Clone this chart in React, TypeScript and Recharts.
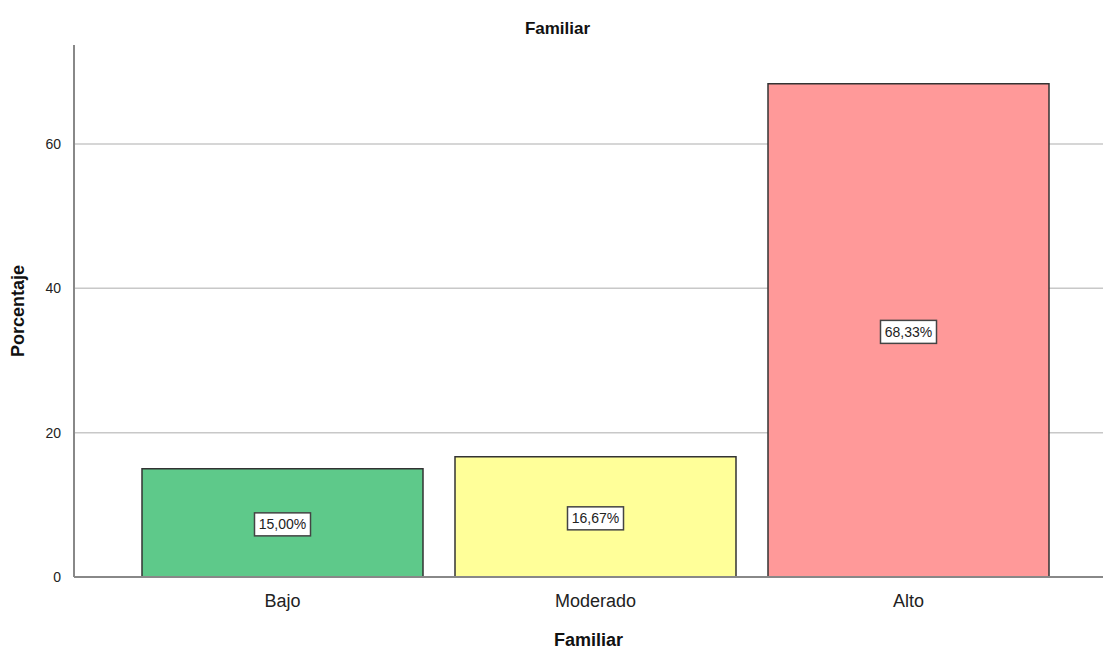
import React from 'react';
import { BarChart, Bar, XAxis, YAxis, CartesianGrid, Cell, LabelList } from 'recharts';

const categories = ['Bajo', 'Moderado', 'Alto'];
const percentages = [15.0, 16.67, 68.33];
const barColors = ['#5ec98a', '#ffff99', '#ff9999'];
const yTicks = [0, 20, 40, 60];

const data = categories.map((name, i) => ({ name, value: percentages[i] }));

const FONT = '"Liberation Sans", Arial, sans-serif';

const BoxLabel = (props: any) => {
  const { x, y, width, height, value } = props;
  const cx = x + width / 2;
  const cy = y + height / 2 + 1.5;
  const text = `${value.toFixed(2).replace('.', ',')}%`;
  const w = 56;
  const h = 23;
  return (
    <g>
      <rect x={cx - w / 2} y={cy - h / 2} width={w} height={h} fill="#ffffff" stroke="#444444" strokeWidth={1.5} />
      <text x={cx} y={cy} dy={5} textAnchor="middle" fontSize={14} fontFamily={FONT} fill="#222">
        {text}
      </text>
    </g>
  );
};

export default function App() {
  return (
    <div style={{ position: 'absolute', left: 0, top: 0, width: 1103, height: 650, background: '#fff', fontFamily: FONT }}>
      <div style={{ position: 'absolute', top: 19, left: 0, width: 1115, textAlign: 'center', fontWeight: 'bold', fontSize: 17, color: '#111' }}>
        Familiar
      </div>
      <BarChart
        width={1103}
        height={650}
        data={data}
        margin={{ top: 45, right: 0, bottom: 0, left: 0 }}
      >
        <CartesianGrid vertical={false} stroke="#c8c8c8" strokeWidth={1.5} horizontalValues={[20, 40, 60]} />
        <XAxis
          dataKey="name"
          axisLine={{ stroke: '#888888', strokeWidth: 2 }}
          tickLine={false}
          padding={{ left: 52, right: 38 }}
          tick={{ fontSize: 18, fill: '#222', fontFamily: FONT }}
          tickMargin={11}
          label={{ value: 'Familiar', position: 'insideBottom', offset: 4, fontSize: 18, fontWeight: 'bold', fill: '#111', fontFamily: FONT }}
          height={73}
        />
        <YAxis
          domain={[0, 73.7]}
          ticks={yTicks}
          width={74}
          axisLine={{ stroke: '#888888', strokeWidth: 2 }}
          tickLine={false}
          tick={{ fontSize: 14, fill: '#222', fontFamily: FONT }}
          tickMargin={7}
          allowDataOverflow
          label={{ value: 'Porcentaje', angle: -90, position: 'insideLeft', offset: 18, fontSize: 18, fontWeight: 'bold', fill: '#111', fontFamily: FONT, style: { textAnchor: 'middle' } }}
        />
        <Bar dataKey="value" barSize={281} stroke="#333333" strokeWidth={1.5} isAnimationActive={false}>
          {data.map((_, i) => (
            <Cell key={`c-${i}`} fill={barColors[i]} />
          ))}
          <LabelList dataKey="value" content={BoxLabel} />
        </Bar>
      </BarChart>
    </div>
  );
}
